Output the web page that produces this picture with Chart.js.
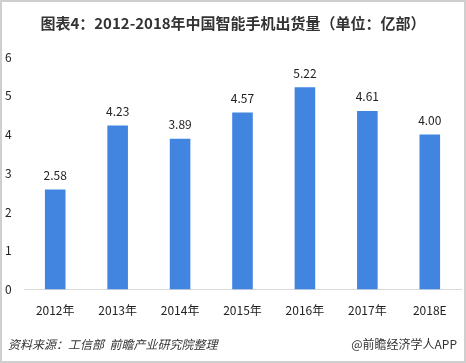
<!DOCTYPE html>
<html>
<head>
<meta charset="utf-8">
<script src="https://cdn.jsdelivr.net/npm/chart.js@4"></script>
<style>
  body { margin: 0; background: #fff; }
  #box { width: 466px; height: 363px; box-sizing: border-box; border: 2px solid #cfcfcf; position: relative; }
</style>
</head>
<body>
<div id="box"><canvas id="myChart" width="462" height="359"></canvas></div>
<script>
const anios = ['2012年', '2013年', '2014年', '2015年', '2016年', '2017年', '2018E'];
const envios = [2.58, 4.23, 3.89, 4.57, 5.22, 4.61, 4.00];
const etiquetas = ['2.58', '4.23', '3.89', '4.57', '5.22', '4.61', '4.00'];
const ticksY = [0, 1, 2, 3, 4, 5, 6];

const fuente = '"Microsoft YaHei", "Noto Sans CJK SC", sans-serif';

// etiquetas encima de las barras
const valoresPlugin = {
    id: 'valores',
    afterDatasetsDraw(chart) {
        const ctx = chart.ctx;
        const meta = chart.getDatasetMeta(0);
        ctx.save();
        ctx.font = '12px ' + fuente;
        ctx.fillStyle = '#222';
        ctx.textAlign = 'center';
        ctx.textBaseline = 'bottom';
        meta.data.forEach((bar, i) => {
            ctx.fillText(etiquetas[i], bar.x, bar.y - 8);
        });
        ctx.restore();
    }
};

// pie de grafico
const piePlugin = {
    id: 'pie',
    afterDraw(chart) {
        const ctx = chart.ctx;
        ctx.save();
        ctx.fillStyle = '#333';
        ctx.textBaseline = 'middle';
        ctx.font = 'italic 12px ' + fuente;
        ctx.textAlign = 'left';
        ctx.fillText('资料来源：工信部  前瞻产业研究院整理', 6, 342);
        ctx.font = '12px ' + fuente;
        ctx.textAlign = 'right';
        ctx.fillText('@前瞻经济学人APP', 455, 342);
        ctx.restore();
    }
};

new Chart(document.getElementById('myChart'), {
    type: 'bar',
    data: {
        labels: anios,
        datasets: [{
            data: envios,
            backgroundColor: '#4285e0',
            barPercentage: 0.33,
            categoryPercentage: 1
        }]
    },
    options: {
        responsive: false,
        animation: false,
        layout: { padding: { left: 3, right: 3, top: 0, bottom: 37 } },
        scales: {
            x: {
                grid: { display: false },
                border: { color: '#d9d9d9' },
                ticks: { color: '#222', font: { size: 12, family: fuente }, padding: 6 }
            },
            y: {
                min: 0,
                max: 6,
                afterBuildTicks: axis => { axis.ticks = ticksY.map(v => ({ value: v })); },
                afterFit: axis => { axis.width = 19; },
                grid: { display: false },
                border: { display: false },
                ticks: { color: '#222', font: { size: 12, family: fuente }, padding: 4, crossAlign: 'far' }
            }
        },
        plugins: {
            legend: { display: false },
            tooltip: { enabled: false },
            title: {
                display: true,
                text: '图表4：2012-2018年中国智能手机出货量（单位：亿部）',
                color: '#333',
                font: { size: 15, weight: 'bold', family: fuente },
                padding: { top: 12, bottom: 25 }
            }
        }
    },
    plugins: [valoresPlugin, piePlugin]
});
</script>
</body>
</html>
